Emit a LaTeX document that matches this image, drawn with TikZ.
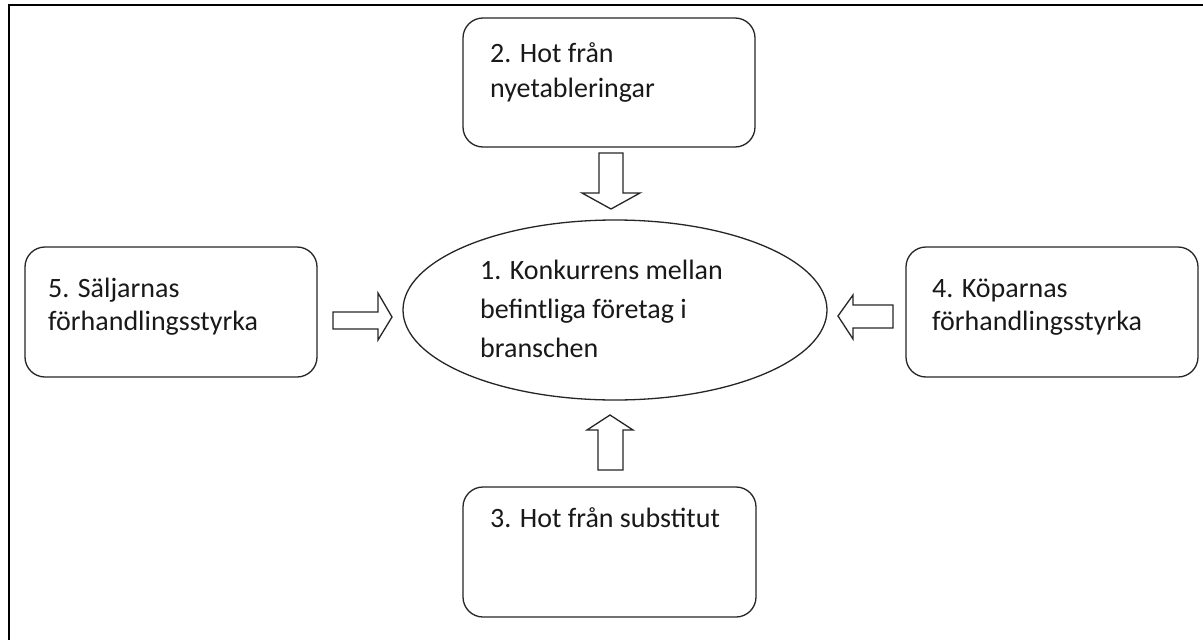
\documentclass[tikz,border=0pt]{standalone}
\usepackage{fontspec}
\setmainfont{Carlito}
\begin{document}
\begin{tikzpicture}[x=1pt,y=-1pt,
  box/.style={draw=black!85,line width=1.3pt,rounded corners=20pt},
  lbl/.style={anchor=base west,inner sep=0pt,font=\fontsize{28}{28}\selectfont,text=black!90},
  blockarrow/.style={draw=black!85,line width=1.3pt,fill=white,line join=miter}]
\useasboundingbox (0,0) rectangle (1203,640);
\fill[white] (0,0) rectangle (1203,640);
\draw[line width=2pt,black] (8.5,640) -- (8.5,5) -- (1203,5);
% boxes
\draw[box] (463,18) rectangle (755,147);
\draw[box] (25,247) rectangle (317,377);
\draw[box] (906,247) rectangle (1198,377);
\draw[box] (463,487) rectangle (756,617);
\draw[draw=black!85,line width=1.3pt] (615,310) ellipse [x radius=212, y radius=90];
% texts
\node[lbl] (t2a) at (490,62) {2. Hot från};
\node[lbl] (t2b) at (490,97) {nyetableringar};
\node[lbl] (t5a) at (48,297) {5. Säljarnas};
\node[lbl] (t5b) at (48,330) {förhandlingsstyrka};
\node[lbl] (t4a) at (932,297) {4. Köparnas};
\node[lbl] (t4b) at (932,330) {förhandlingsstyrka};
\node[lbl] (t3) at (490,527) {3. Hot från substitut};
\node[lbl] (t1a) at (480,279) {1. Konkurrens mellan};
\node[lbl] (t1b) at (480,318) {befintliga företag i};
\node[lbl] (t1c) at (480,357) {branschen};
% block arrows
\draw[blockarrow] (599,153) -- (623,153) -- (623,193) -- (640,193) -- (611,209) -- (582,193) -- (599,193) -- cycle;
\draw[blockarrow] (598,470) -- (623,470) -- (623,430) -- (633,430) -- (610,415) -- (587,430) -- (598,430) -- cycle;
\draw[blockarrow] (333,312) -- (378,312) -- (378,293) -- (392,317) -- (378,340) -- (378,329) -- (333,329) -- cycle;
\draw[blockarrow] (893,305) -- (853,305) -- (853,295) -- (838,316) -- (853,339) -- (853,328) -- (893,328) -- cycle;
\end{tikzpicture}
\end{document}
